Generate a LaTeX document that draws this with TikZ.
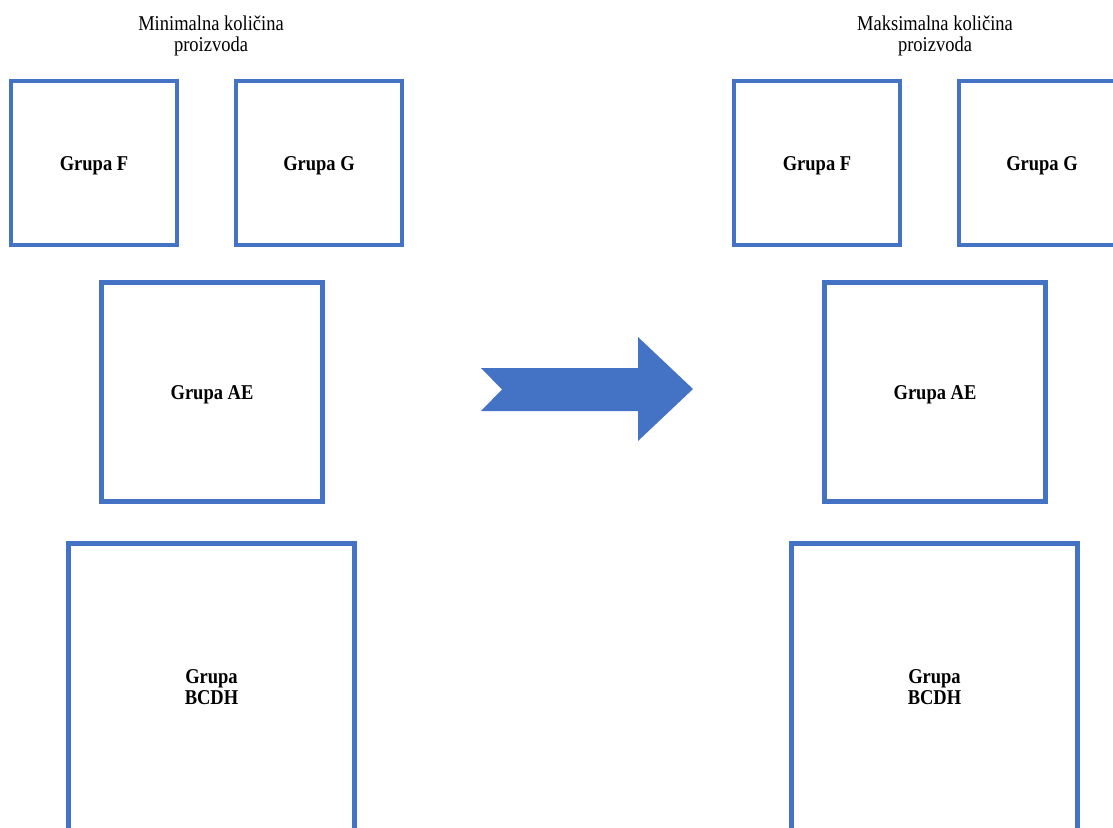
\documentclass[tikz,border=0pt]{standalone}
\usepackage{fontspec}
\setmainfont{Liberation Serif}
\definecolor{oblue}{HTML}{4472C4}
\newcommand{\vst}[1]{\scalebox{1}[1.14]{#1}}
\newcommand{\twol}[2]{\vst{\begin{tabular}{@{}c@{}}#1\\#2\end{tabular}}}
\begin{document}
\begin{tikzpicture}[x=1pt,y=-1pt,
  grpbox/.style={draw=oblue, line width=4.5pt, rectangle, inner sep=0pt, outer sep=0pt},
  lbl/.style={font=\bfseries\fontsize{18.5}{18.5}\selectfont, align=center, inner sep=0pt},
  ttl/.style={font=\fontsize{18.5}{18.5}\selectfont, align=center, inner sep=0pt},
  bigarrow/.style={fill=oblue, draw=none}]
\useasboundingbox (0,0) rectangle (1113,827);
\clip (0,0) rectangle (1113,827);

% left column
\node[ttl] (tl) at (211,37) {\twol{Minimalna količina}{proizvoda}};
\node[grpbox, minimum width=166pt, minimum height=164pt] (lF) at (94,163) {};
\node[grpbox, minimum width=166pt, minimum height=164pt] (lG) at (319,163) {};
\node[grpbox, minimum width=221pt, minimum height=219pt] (lAE) at (212,392) {};
\node[grpbox, minimum width=286pt, minimum height=320pt] (lB) at (211.5,703.5) {};
\node[lbl] (lFt) at (94,166) {\vst{Grupa F}};
\node[lbl] (lGt) at (319,166) {\vst{Grupa G}};
\node[lbl] (lAEt) at (212,395) {\vst{Grupa AE}};
\node[lbl] (lBt) at (211.5,690) {\twol{Grupa}{BCDH}};

% right column
\node[ttl] (tr) at (935,37) {\twol{Maksimalna količina}{proizvoda}};
\node[grpbox, minimum width=166pt, minimum height=164pt] (rF) at (817,163) {};
\node[grpbox, minimum width=166pt, minimum height=164pt] (rG) at (1042,163) {};
\node[grpbox, minimum width=221pt, minimum height=219pt] (rAE) at (935,392) {};
\node[grpbox, minimum width=286pt, minimum height=320pt] (rB) at (934.5,703.5) {};
\node[lbl] (rFt) at (817,166) {\vst{Grupa F}};
\node[lbl] (rGt) at (1042,166) {\vst{Grupa G}};
\node[lbl] (rAEt) at (935,395) {\vst{Grupa AE}};
\node[lbl] (rBt) at (934.5,690) {\twol{Grupa}{BCDH}};

% big arrow
\fill[bigarrow] (481,368) -- (502,389.5) -- (481,411) -- (638,411) -- (638,441)
  -- (693,389) -- (638,337) -- (638,368) -- cycle;
\end{tikzpicture}
\end{document}
